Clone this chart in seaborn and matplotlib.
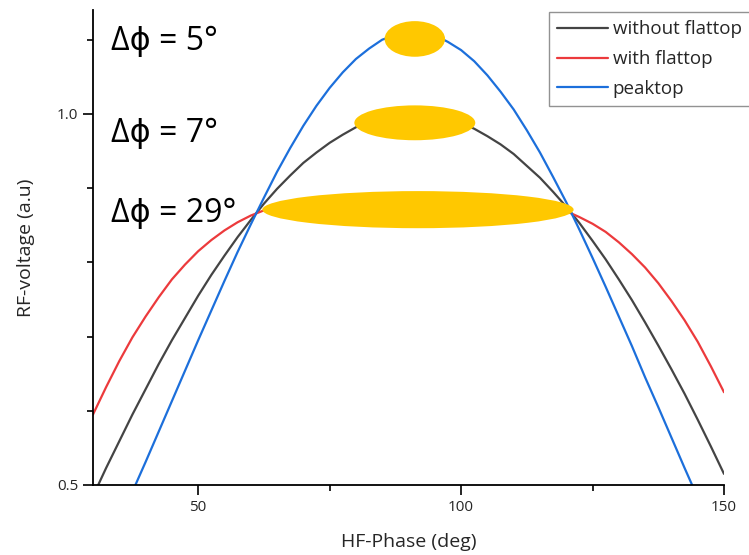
import numpy as np
import pandas as pd
import matplotlib
matplotlib.use('Agg')
import matplotlib.pyplot as plt
import seaborn as sns
from matplotlib.patches import Ellipse
from matplotlib.ticker import MultipleLocator

# values (every 2.5 deg)
phase = [30, 32.5, 35, 37.5, 40, 42.5, 45, 47.5, 50, 52.5, 55, 57.5, 60,
         62.5, 65, 67.5, 70, 72.5, 75, 77.5, 80, 82.5, 85, 87.5, 90,
         92.5, 95, 97.5, 100, 102.5, 105, 107.5, 110, 112.5, 115, 117.5, 120,
         122.5, 125, 127.5, 130, 132.5, 135, 137.5, 140, 142.5, 145, 147.5, 150]
without_flattop = [0.485, 0.523, 0.559, 0.595, 0.629, 0.663, 0.695, 0.725, 0.755, 0.783,
                   0.809, 0.834, 0.857, 0.879, 0.899, 0.917, 0.934, 0.948, 0.961, 0.972,
                   0.982, 0.989, 0.995, 0.998, 1.000, 1.000, 0.998, 0.994, 0.988, 0.980,
                   0.970, 0.959, 0.946, 0.930, 0.914, 0.895, 0.875, 0.853, 0.829, 0.804,
                   0.777, 0.749, 0.719, 0.688, 0.656, 0.623, 0.588, 0.552, 0.515]
with_flattop = [0.595, 0.632, 0.667, 0.699, 0.727, 0.753, 0.777, 0.797, 0.815, 0.830,
                0.843, 0.854, 0.863, 0.870, 0.876, 0.880, 0.884, 0.886, 0.888, 0.889,
                0.889, 0.890, 0.890, 0.890, 0.890, 0.890, 0.890, 0.890, 0.890, 0.889,
                0.889, 0.887, 0.886, 0.883, 0.880, 0.875, 0.869, 0.861, 0.852, 0.841,
                0.827, 0.811, 0.793, 0.772, 0.748, 0.722, 0.693, 0.660, 0.625]
peaktop = [0.375, 0.413, 0.451, 0.491, 0.531, 0.572, 0.613, 0.654, 0.695, 0.735,
           0.775, 0.814, 0.851, 0.887, 0.922, 0.954, 0.984, 1.011, 1.035, 1.056,
           1.074, 1.088, 1.100, 1.106, 1.110, 1.109, 1.106, 1.097, 1.086, 1.071,
           1.052, 1.030, 1.006, 0.978, 0.948, 0.915, 0.881, 0.844, 0.806, 0.767,
           0.727, 0.687, 0.645, 0.605, 0.564, 0.523, 0.483, 0.444, 0.405]

series_names = ['without flattop', 'with flattop', 'peaktop']
series_colors = ['#444444', '#EC3A3C', '#1C6FDB']

# bunch spots (yellow ellipses) and phase spread labels
spot_x = [91.2, 91.2, 91.8]
spot_y = [1.101, 0.988, 0.871]
spot_w = [11.5, 23.0, 59.2]
spot_h = [0.048, 0.047, 0.050]
spread_labels = ['Δϕ = 5°', 'Δϕ = 7°', 'Δϕ = 29°']
label_y = [1.086, 0.962, 0.854]

df = pd.DataFrame({'phase': phase,
                   'without flattop': without_flattop,
                   'with flattop': with_flattop,
                   'peaktop': peaktop})

sns.set_style('ticks')
plt.rcParams['font.family'] = ['Open Sans', 'DejaVu Sans']

fig = plt.figure(figsize=(7.49, 5.55), dpi=100)
ax = fig.add_axes([93/749, 1 - 485/555, (724 - 93)/749, (485 - 10)/555])

for name, col in zip(series_names, series_colors):
    sns.lineplot(data=df, x='phase', y=name, color=col, linewidth=1.6,
                 label=name, ax=ax, zorder=2)

for x, y, w, h in zip(spot_x, spot_y, spot_w, spot_h):
    ax.add_patch(Ellipse((x, y), w, h, facecolor='#FFC800', edgecolor='none', zorder=3))

for txt, y in zip(spread_labels, label_y):
    ax.text(33.5, y, txt, fontsize=23, va='baseline', ha='left', color='black', zorder=4)

ax.set_xlim(30, 150)
ax.set_ylim(0.5, 1.14)
ax.set_xticks([50, 100, 150])
ax.set_yticks([0.5, 1.0])
ax.set_yticklabels(['0.5', '1.0'])
ax.xaxis.set_minor_locator(MultipleLocator(25))
ax.yaxis.set_minor_locator(MultipleLocator(0.1))
ax.tick_params(which='major', length=7, width=1.2, labelsize=11, color='black')
ax.tick_params(which='minor', length=4, width=1.2, color='black')
for s in ['left', 'bottom']:
    ax.spines[s].set_linewidth(1.3)
    ax.spines[s].set_color('black')
sns.despine(ax=ax)

ax.set_xlabel('HF-Phase (deg)', fontsize=14, labelpad=13)
ax.set_ylabel('RF-voltage (a.u)', fontsize=14, labelpad=16)

leg = ax.legend(loc='upper left', bbox_to_anchor=(549/749, 1 - 12/555),
                bbox_transform=fig.transFigure, fontsize=13.5, frameon=True,
                fancybox=False, handlelength=2.7, handletextpad=0.25,
                borderpad=0.45, labelspacing=0.62, borderaxespad=0)
leg.get_frame().set_edgecolor('#777777')
leg.get_frame().set_linewidth(1.0)
leg.set_zorder(5)

fig.savefig('out.png', dpi=100)
